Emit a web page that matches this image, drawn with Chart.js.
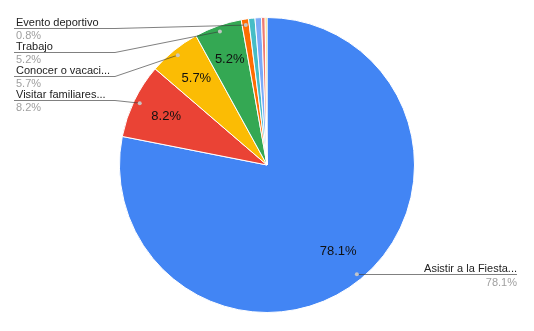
<!DOCTYPE html>
<html><head><meta charset="utf-8">
<script src="https://cdn.jsdelivr.net/npm/chart.js@4"></script>
<style>html,body{margin:0;padding:0;background:#fff}#wrap{width:534px;height:331px;position:relative}</style>
</head><body><div id="wrap"><canvas id="c"></canvas></div>
<script>
const categories = ["Asistir a la Fiesta...","Visitar familiares...","Conocer o vacaci...","Trabajo","Evento deportivo","Otro motivo","Estudios","Negocios","Salud"];
const values = [78.1, 8.2, 5.7, 5.2, 0.8, 0.7, 0.7, 0.4, 0.2];
const colors = ["#4285f4","#ea4335","#fbbc04","#34a853","#ff6d01","#46bdc6","#7baaf7","#f07b72","#fcd04f"];
const insideMin = 5;
const leftLabelOrder = [4, 3, 2, 1];
const rightLabelOrder = [0];

const FONT = '"Liberation Sans", Arial, sans-serif';

const labelPlugin = {
  id: 'sheetLabels',
  afterDatasetsDraw(chart) {
    const ctx = chart.ctx;
    const meta = chart.getDatasetMeta(0);
    const total = values.reduce((a, b) => a + b, 0);
    const pct = i => (values[i] / total * 100).toFixed(1) + '%';
    const geo = i => meta.data[i].getProps(['x','y','startAngle','endAngle','outerRadius'], true);
    const anchor = i => {
      const g = geo(i); const a = (g.startAngle + g.endAngle) / 2; const r = g.outerRadius - 6;
      return [g.x + Math.cos(a) * r, g.y + Math.sin(a) * r];
    };
    ctx.save();
    // inside labels
    ctx.font = '13px ' + FONT;
    ctx.fillStyle = '#111';
    ctx.textAlign = 'center';
    ctx.textBaseline = 'middle';
    values.forEach((v, i) => {
      if (v / total * 100 < insideMin) return;
      const g = geo(i); const a = (g.startAngle + g.endAngle) / 2; const r = g.outerRadius * 0.76;
      ctx.fillText(pct(i), g.x + Math.cos(a) * r, g.y + Math.sin(a) * r);
    });
    const dot = (x, y) => {
      ctx.beginPath(); ctx.arc(x, y, 2, 0, Math.PI * 2);
      ctx.fillStyle = 'rgba(200,200,200,0.95)'; ctx.fill();
    };
    ctx.textBaseline = 'alphabetic';
    ctx.lineWidth = 1;
    const lineCol = 'rgba(60,60,60,0.65)';
    // left labels
    leftLabelOrder.forEach((idx, k) => {
      const base = 26 + k * 24;
      const lineY = base + 2.5;
      const tx = 16, bendX = 115;
      const [ax, ay] = anchor(idx);
      ctx.strokeStyle = lineCol;
      ctx.beginPath(); ctx.moveTo(tx - 2, lineY); ctx.lineTo(bendX, lineY); ctx.lineTo(ax, ay); ctx.stroke();
      dot(ax, ay);
      ctx.textAlign = 'left';
      ctx.font = '11px ' + FONT;
      ctx.fillStyle = '#222';
      ctx.fillText(categories[idx], tx, base);
      ctx.fillStyle = '#a0a0a0';
      ctx.fillText(pct(idx), tx, base + 13);
    });
    // right labels
    rightLabelOrder.forEach(idx => {
      const [ax, ay] = anchor(idx);
      const rx = 517;
      const lineY = Math.round(ay) + 0.5;
      ctx.strokeStyle = lineCol;
      ctx.beginPath(); ctx.moveTo(ax, lineY); ctx.lineTo(rx, lineY); ctx.stroke();
      dot(ax, ay);
      ctx.textAlign = 'right';
      ctx.font = '11px ' + FONT;
      ctx.fillStyle = '#222';
      ctx.fillText(categories[idx], rx, lineY - 3);
      ctx.fillStyle = '#a0a0a0';
      ctx.fillText(pct(idx), rx, lineY + 11);
    });
    ctx.restore();
  }
};

new Chart(document.getElementById('c'), {
  type: 'pie',
  data: {
    labels: categories,
    datasets: [{ data: values, backgroundColor: colors, borderColor: '#ffffff', borderWidth: 1 }]
  },
  options: {
    responsive: true,
    maintainAspectRatio: false,
    animation: false,
    layout: { padding: { top: 17, bottom: 18, left: 0, right: 0 } },
    plugins: { legend: { display: false }, tooltip: { enabled: false } }
  },
  plugins: [labelPlugin]
});
</script>
</body></html>
